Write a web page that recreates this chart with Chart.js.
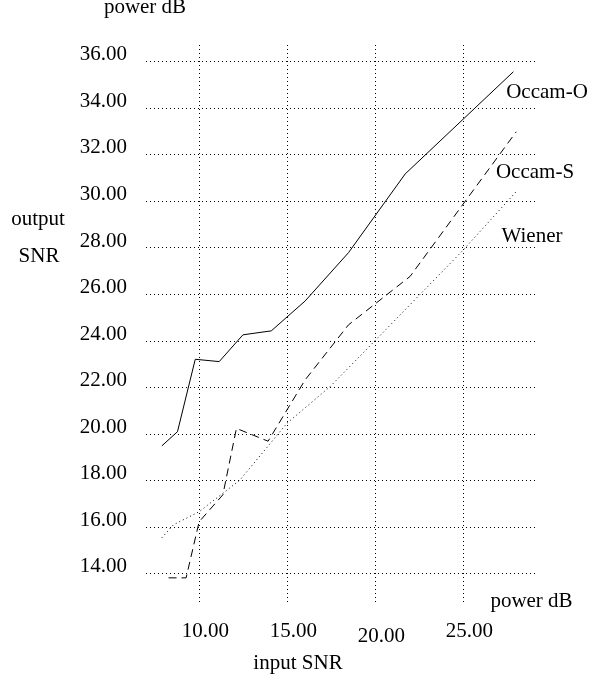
<!DOCTYPE html>
<html>
<head>
<meta charset="utf-8">
<script src="https://cdn.jsdelivr.net/npm/chart.js@4/dist/chart.umd.min.js"></script>
<style>
  html, body { margin: 0; padding: 0; background: #fff; }
  #c { display: block; }
</style>
</head>
<body>
<canvas id="c" width="590" height="683"></canvas>
<script>
// ---- data ----
const occamOX = [7.86, 8.75, 9.76, 11.12, 12.47, 14.08, 16.0, 18.47, 21.69, 27.84];
const occamOY = [19.50, 20.11, 23.22, 23.12, 24.27, 24.44, 25.72, 27.80, 31.18, 35.57];

const occamSX = [8.24, 9.24, 9.98, 11.33, 12.10, 13.90, 16.0, 18.47, 21.97, 28.0];
const occamSY = [13.83, 13.83, 16.24, 17.40, 20.25, 19.70, 22.33, 24.70, 26.78, 32.99];

const wienerX = [7.86, 8.52, 9.98, 12.31, 14.97, 17.43, 19.98, 25.0, 28.0];
const wienerY = [15.55, 16.11, 16.67, 18.04, 20.47, 22.05, 24.02, 27.92, 30.42];

const xTicks = [10, 15, 20, 25];
const yTicks = [14, 16, 18, 20, 22, 24, 26, 28, 30, 32, 34, 36];

const seriesNames = ['Occam-O', 'Occam-S', 'Wiener'];
const yAxisTitle = ['output', 'SNR'];
const xAxisTitle = 'input SNR';
const unitLabel = 'power dB';

// ---- build ----
const pts = (xs, ys) => xs.map((x, i) => ({ x: x, y: ys[i] }));
const FONT = '"Liberation Serif", "Times New Roman", serif';

const textPlugin = {
  id: 'texts',
  afterDraw(chart) {
    const ctx = chart.ctx;
    ctx.save();
    ctx.fillStyle = '#000';
    ctx.font = '21px ' + FONT;
    ctx.textAlign = 'center';
    ctx.textBaseline = 'alphabetic';
    ctx.fillText(unitLabel, 145, 13);
    ctx.fillText(yAxisTitle[0], 38, 225);
    ctx.fillText(yAxisTitle[1], 39, 261.5);
    ctx.fillText(unitLabel, 531.5, 606.5);
    ctx.fillText(xAxisTitle, 298, 669);
    ctx.fillText(seriesNames[0], 547, 98.3);
    ctx.fillText(seriesNames[1], 535, 178.3);
    ctx.fillText(seriesNames[2], 532, 241.7);
    ctx.restore();
  }
};

new Chart(document.getElementById('c'), {
  type: 'line',
  data: {
    datasets: [
      { label: seriesNames[0], data: pts(occamOX, occamOY), borderColor: '#000', borderWidth: 1, borderDash: [], pointRadius: 0, tension: 0, fill: false },
      { label: seriesNames[1], data: pts(occamSX, occamSY), borderColor: '#000', borderWidth: 1, borderDash: [8, 5], pointRadius: 0, tension: 0, fill: false },
      { label: seriesNames[2], data: pts(wienerX, wienerY), borderColor: '#000', borderWidth: 1, borderDash: [1, 3], pointRadius: 0, tension: 0, fill: false }
    ]
  },
  options: {
    responsive: false,
    animation: false,
    devicePixelRatio: 1,
    layout: { padding: { left: 0, right: 55, top: 45, bottom: 0 } },
    plugins: { legend: { display: false }, tooltip: { enabled: false }, title: { display: false } },
    scales: {
      x: {
        type: 'linear',
        min: 6.96, max: 29.07,
        afterBuildTicks: (s) => { s.ticks = xTicks.map(v => ({ value: v })); },
        afterFit: (s) => { s.height = 80; },
        border: { display: false, dash: [1, 3] },
        grid: { color: '#000', lineWidth: 1, drawTicks: false },
        ticks: {
          autoSkip: false,
          maxRotation: 0,
          padding: 16,
          labelOffset: 6,
          color: '#000',
          font: (ctx) => ({ family: FONT, size: 21, lineHeight: (ctx.tick && ctx.tick.value === 20) ? '35.2px' : '25.2px' }),
          callback: (v) => Number(v).toFixed(2)
        }
      },
      y: {
        type: 'linear',
        min: 12.75, max: 36.72,
        afterBuildTicks: (s) => { s.ticks = yTicks.map(v => ({ value: v })); },
        afterFit: (s) => { s.width = 146; },
        border: { display: false, dash: [1, 3] },
        grid: { color: '#000', lineWidth: 1, drawTicks: false },
        ticks: {
          autoSkip: false,
          padding: 19,
          labelOffset: -7,
          color: '#000',
          font: { family: FONT, size: 21 },
          callback: (v) => Number(v).toFixed(2)
        }
      }
    }
  },
  plugins: [textPlugin]
});
</script>
</body>
</html>
